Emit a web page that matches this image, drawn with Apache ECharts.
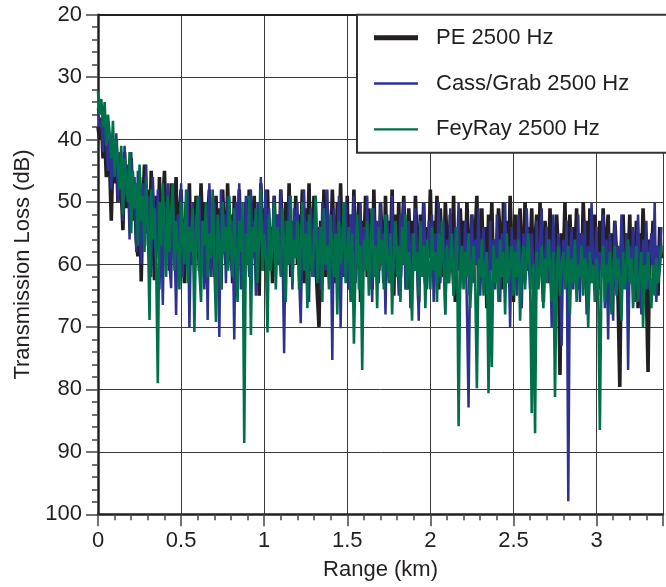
<!DOCTYPE html>
<html>
<head>
<meta charset="utf-8">
<script src="https://cdn.jsdelivr.net/npm/echarts@6/dist/echarts.min.js"></script>
<style>
html,body{margin:0;padding:0;background:#fff;}
#chart{width:666px;height:587px;}
</style>
</head>
<body>
<div id="chart"></div>
<script>
// Range samples (km)
const rangeKm = [
0,0.01,0.02,0.03,0.04,0.05,0.06,0.07,0.08,0.09,
0.1,0.11,0.12,0.13,0.14,0.15,0.16,0.17,0.18,0.19,
0.2,0.21,0.22,0.23,0.24,0.25,0.26,0.27,0.28,0.29,
0.3,0.31,0.32,0.33,0.34,0.35,0.36,0.37,0.38,0.39,
0.4,0.41,0.42,0.43,0.44,0.45,0.46,0.47,0.48,0.49,
0.5,0.51,0.52,0.53,0.54,0.55,0.56,0.57,0.58,0.59,
0.6,0.61,0.62,0.63,0.64,0.65,0.66,0.67,0.68,0.69,
0.7,0.71,0.72,0.73,0.74,0.75,0.76,0.77,0.78,0.79,
0.8,0.81,0.82,0.83,0.84,0.85,0.86,0.87,0.88,0.89,
0.9,0.91,0.92,0.93,0.94,0.95,0.96,0.97,0.98,0.99,
1,1.01,1.02,1.03,1.04,1.05,1.06,1.07,1.08,1.09,
1.1,1.11,1.12,1.13,1.14,1.15,1.16,1.17,1.18,1.19,
1.2,1.21,1.22,1.23,1.24,1.25,1.26,1.27,1.28,1.29,
1.3,1.31,1.32,1.33,1.34,1.35,1.36,1.37,1.38,1.39,
1.4,1.41,1.42,1.43,1.44,1.45,1.46,1.47,1.48,1.49,
1.5,1.51,1.52,1.53,1.54,1.55,1.56,1.57,1.58,1.59,
1.6,1.61,1.62,1.63,1.64,1.65,1.66,1.67,1.68,1.69,
1.7,1.71,1.72,1.73,1.74,1.75,1.76,1.77,1.78,1.79,
1.8,1.81,1.82,1.83,1.84,1.85,1.86,1.87,1.88,1.89,
1.9,1.91,1.92,1.93,1.94,1.95,1.96,1.97,1.98,1.99,
2,2.01,2.02,2.03,2.04,2.05,2.06,2.07,2.08,2.09,
2.1,2.11,2.12,2.13,2.14,2.15,2.16,2.17,2.18,2.19,
2.2,2.21,2.22,2.23,2.24,2.25,2.26,2.27,2.28,2.29,
2.3,2.31,2.32,2.33,2.34,2.35,2.36,2.37,2.38,2.39,
2.4,2.41,2.42,2.43,2.44,2.45,2.46,2.47,2.48,2.49,
2.5,2.51,2.52,2.53,2.54,2.55,2.56,2.57,2.58,2.59,
2.6,2.61,2.62,2.63,2.64,2.65,2.66,2.67,2.68,2.69,
2.7,2.71,2.72,2.73,2.74,2.75,2.76,2.77,2.78,2.79,
2.8,2.81,2.82,2.83,2.84,2.85,2.86,2.87,2.88,2.89,
2.9,2.91,2.92,2.93,2.94,2.95,2.96,2.97,2.98,2.99,
3,3.01,3.02,3.03,3.04,3.05,3.06,3.07,3.08,3.09,
3.1,3.11,3.12,3.13,3.14,3.15,3.16,3.17,3.18,3.19,
3.2,3.21,3.22,3.23,3.24,3.25,3.26,3.27,3.28,3.29,
3.3,3.31,3.32,3.33,3.34,3.35,3.36,3.37,3.38,3.39
];

// Transmission loss (dB), PE 2500 Hz
const peLoss = [
38,40,36.5,43,39,46,41,44,53,42,
47,40,50,43,48,54.5,42,51,45,49,
43,53,47,56,58.7,46,62.7,50,44,55,
48,59,45,53,62.5,49,57,46,60,51,
45,56,50,61,47,58,53,46,62,52,
48,57,63,50,55,47,60,52,58,49,
54,61,47,56,50,63,53,48,59,55,
62,49,57,51,64,48,55,60,47,58,
52,63,49,56,61,48,58,53,64,50,
57,48,62,54,49,60,52,65,47,56,
51,61,48,58,54,63,49,57,52,60,
48,55,64,50,59,47,62,53,57,49,
60,52,56,48,63,51,58,47,61,54,
49,59,65,70,53,57,48,62,51,56,
60,48,55,63,50,58,47,61,53,57,
49,64,52,58,48,60,55,50,66,53,
58,49,62,51,57,64,48,59,54,61,
50,56,63,49,60,53,57,48,65,52,
59,50,62,55,49,58,64,51,57,53,
61,49,56,66,52,59,50,63,54,58,
48,60,53,57,49,64,51,58,62,50,
56,63,52,59,49,66,55,61,51,58,
53,62,50,57,65,52,60,55,49,63,
57,51,61,54,67,52,58,50,63,56,
60,51,55,64,50,59,53,62,49,57,
66,52,60,55,51,63,57,50,61,54,
59,51,64,56,52,61,50,58,66,53,
57,62,51,60,54,65,52,58,77.7,55,
60,50,63,56,52,61,54,59,51,64,
55,62,50,58,53,66,51,57,60,52,
58,64,53,60,51,62,56,52,65,55,
61,53,58,66,79.6,57,52,62,55,60,
52,63,56,60,53,67,55,61,51,58,
64,77.2,56,60,53,62,57,65,54,59
];

// Transmission loss (dB), Cass/Grab 2500 Hz
const cassGrabLoss = [
35,38,37,42,36,40,45,39,48,41,
44,39,50,42,47,53,41,49,44,56,
42,51,46,58,45,53,60,47,55,44,
57,49,62,46,54,59,48,64,52,66.5,
50,57,47,60,63.8,49,55,68.1,52,58,
47,62,53,59,48,70,55,50,64,52,
58,49,61,53,64,51,68.9,47,62,54,
50,60,55,71.6,48,58,52,63,49,57,
61,53,72,50,59,47,64,54,58,49,
56,62,48,59,53,65,50,57,46,61,
54,48,63,51,58,55,49,62,52,60,
48,57,74.2,53,60,49,56,64,51,58,
50,62,69.4,55,48,60,53,66,51,57,
62,49,58,54,64,50,57,61,48,59,
53,75.3,51,60,56,49,70.2,54,62,50,
58,64,52,57,49,63,55,61,50,67,
54,59,49,62,56,66,51,58,53,63,
50,60,55,68,52,57,63,49,61,54,
58,65,52,60,50,64,56,53,67,55,
61,51,58,69,54,62,50,57,64,53,
59,52,66,55,61,50,63,57,53,68,
56,62,51,60,65,54,58,50,64,57,
61,53,67,82.9,58,52,63,56,60,51,
65,57,54,62,59,69,53,61,56,64,
52,60,66,55,58,50,63,57,70,54,
61,56,65,52,59,67,55,62,51,58,
64,55,60,68,53,62,57,51,66,59,
54,63,56,70,52,60,65,55,58,73,
56,62,53,97.9,59,54,64,57,61,52,
66,55,60,53,68,57,63,50,59,62,
54,65,58,61,52,67,56,72,55,60,
69,53,61,57,64,52,58,62,55,76.9,
57,63,54,66,59,52,61,68,56,60,
53,64,58,55,62,50,66,57,61,54
];

// Transmission loss (dB), FeyRay 2500 Hz
const feyRayLoss = [
32.3,36,33.5,38,34,41,36,39,43,37,
46,40,44,48,41,52,43,47,50,42,
55,45,51,47,57,44,53,49,58,46,
54,68.9,48,56,51,60,79,50,57,47,
55,62,49,58,52,47,61,53,57,64,
50,56,60,48,63,54,58,51,70.8,55,
49,61,66,53,57,50,62,55,59,48,
60,69.2,52,57,64,50,58,54,61,49,
56,62,51,59,66,53,58,50,88.6,55,
60,49,71.3,54,58,51,63,56,48,61,
55,59,70.9,52,61,57,50,64,54,58,
62,51,57,66,53,60,49,63,56,59,
53,64,57,50,61,55,67,52,59,62,
56,49,63,58,54,66,51,60,57,64,
52,59,62,55,68,53,60,57,50,63,
58,54,66,55,72.7,60,52,64,57,76.9,
56,61,53,65,58,51,62,57,67,54,
60,56,64,52,59,63,55,68,58,53,
62,57,66,54,60,52,64,58,61,69,
55,61,58,65,53,62,57,67,56,60,
64,54,61,58,66,55,62,53,60,68,
57,63,59,55,65,60,54,85.9,61,57,
64,58,62,55,67,60,57,63,79.8,59,
62,56,65,60,58,80.6,61,76.4,57,63,
59,66,56,62,58,68,55,63,60,57,
65,58,62,56,69,60,57,64,59,55,
62,83.8,60,87,58,64,61,57,67,59,
63,56,60,66,58,81.2,62,57,65,60,
58,64,61,57,68,59,63,56,66,60,
62,57,65,59,61,70,58,63,60,66,
59,64,86.5,61,57,66,60,63,58,68,
61,57,65,59,62,69,58,64,60,56,
63,59,67,61,57,66,62,58,70,60,
64,58,62,67,60,65,59,63,61,57
];

const seriesNames = ['PE 2500 Hz', 'Cass/Grab 2500 Hz', 'FeyRay 2500 Hz'];
const seriesColors = ['#231f20', '#2e3192', '#00704a'];
const yTicks = [20, 30, 40, 50, 60, 70, 80, 90, 100];
const xTicks = [0, 0.5, 1, 1.5, 2, 2.5, 3];

const FONT = "'Liberation Sans', Arial, Helvetica, sans-serif";
const INK = '#231f20';

function pairs(ys) { return rangeKm.map((x, i) => [x, ys[i]]); }

const chart = echarts.init(document.getElementById('chart'), null, {renderer: 'canvas'});
chart.setOption({
  animation: false,
  backgroundColor: '#fff',
  grid: {left: 98, right: -9, top: 14.7, bottom: 72.7, containLabel: false},
  legend: {
    orient: 'vertical',
    left: 357, top: 14.7,
    itemWidth: 44, itemHeight: 23, itemGap: 22.8,
    padding: [11.5, 90, 12, 17],
    backgroundColor: '#fff',
    borderColor: '#333', borderWidth: 2, borderRadius: 0,
    z: 10,
    itemStyle: {borderWidth: 0},
    textStyle: {fontSize: 22, color: INK, fontFamily: FONT, padding: [0, 0, 0, 13]},
    data: [
      {name: seriesNames[0], icon: 'path://M0,0M0,9L44,9L44,14L0,14ZM44,23'},
      {name: seriesNames[1], icon: 'path://M0,0M0,10.35L44,10.35L44,12.65L0,12.65ZM44,23'},
      {name: seriesNames[2], icon: 'path://M0,0M0,10.35L44,10.35L44,12.65L0,12.65ZM44,23'}
    ]
  },
  xAxis: [{
    type: 'value', min: 0, max: 3.4, interval: 0.5,
    name: 'Range (km)', nameLocation: 'middle', nameGap: 45,
    nameTextStyle: {fontSize: 22, color: INK, fontFamily: FONT},
    axisLine: {show: true, lineStyle: {color: INK, width: 2.5}},
    axisTick: {show: true, inside: false, length: 12, lineStyle: {color: '#444', width: 1.5}},
    minorTick: {show: true, splitNumber: 5, length: 6, lineStyle: {color: '#444', width: 1.5}},
    splitLine: {show: true, lineStyle: {color: '#3a3a3a', width: 1}},
    axisLabel: {fontSize: 22, color: INK, fontFamily: FONT, margin: 16,
      formatter: v => xTicks.indexOf(Math.round(v * 100) / 100) >= 0 ? String(Math.round(v * 100) / 100) : ''}
  }, {
    type: 'value', min: 0, max: 3.4, position: 'top',
    axisLine: {show: true, lineStyle: {color: INK, width: 2}},
    axisTick: {show: false}, axisLabel: {show: false}, splitLine: {show: false}
  }],
  yAxis: {
    type: 'value', min: 20, max: 100, interval: 10, inverse: true,
    name: 'Transmission Loss (dB)', nameLocation: 'middle', nameGap: 62,
    nameTextStyle: {fontSize: 22, color: INK, fontFamily: FONT},
    axisLine: {show: true, lineStyle: {color: INK, width: 2.5}},
    axisTick: {show: true, inside: false, length: 12, lineStyle: {color: '#444', width: 1.5}},
    minorTick: {show: true, splitNumber: 5, length: 6, lineStyle: {color: '#444', width: 1.5}},
    splitLine: {show: true, lineStyle: {color: '#3a3a3a', width: 1}},
    axisLabel: {fontSize: 22, color: INK, fontFamily: FONT, margin: 16,
      formatter: v => yTicks.indexOf(v) >= 0 ? String(v) : ''}
  },
  series: [
    {name: seriesNames[0], type: 'line', data: pairs(peLoss), showSymbol: false, symbol: 'none',
     color: seriesColors[0], lineStyle: {color: seriesColors[0], width: 3.6}, z: 2, clip: true},
    {name: seriesNames[1], type: 'line', data: pairs(cassGrabLoss), showSymbol: false, symbol: 'none',
     color: seriesColors[1], lineStyle: {color: seriesColors[1], width: 2.5}, z: 3, clip: true},
    {name: seriesNames[2], type: 'line', data: pairs(feyRayLoss), showSymbol: false, symbol: 'none',
     color: seriesColors[2], lineStyle: {color: seriesColors[2], width: 2.6}, z: 4, clip: true}
  ]
});
</script>
</body>
</html>
